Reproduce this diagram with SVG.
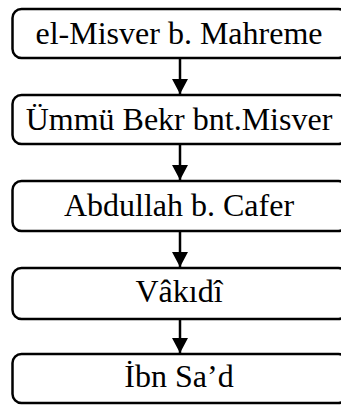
<svg xmlns="http://www.w3.org/2000/svg" width="341" height="405" viewBox="0 0 341 405">
  <style>
    .box { fill: #ffffff; stroke: #000000; stroke-width: 2.5; }
    .label { font-family: "Liberation Serif", "Times New Roman", serif; font-size: 32px; fill: #000000; text-anchor: middle; }
    .link { stroke: #000000; stroke-width: 2.5; fill: none; }
  </style>
  <defs>
    <marker id="arrow" markerUnits="userSpaceOnUse" markerWidth="16" markerHeight="16" refX="15" refY="8" orient="auto">
      <path d="M0,0 L15,8 L0,16 Z" fill="#000000"/>
    </marker>
  </defs>
  <rect width="341" height="405" fill="#ffffff"/>

  <g id="connectors">
    <line class="link" x1="180" y1="58" x2="180" y2="94" marker-end="url(#arrow)"/>
    <line class="link" x1="180" y1="144" x2="180" y2="180" marker-end="url(#arrow)"/>
    <line class="link" x1="180" y1="231" x2="180" y2="267" marker-end="url(#arrow)"/>
    <line class="link" x1="180" y1="319" x2="180" y2="353" marker-end="url(#arrow)"/>
  </g>

  <g id="node-misver">
    <rect class="box" x="12.5" y="9" width="335" height="49" rx="9"/>
    <text class="label" x="179" y="44.3">el-Misver b. Mahreme</text>
  </g>
  <g id="node-ummu-bekr">
    <rect class="box" x="12.5" y="95" width="335" height="49" rx="9"/>
    <text class="label" x="179" y="129.5">Ümmü Bekr bnt.Misver</text>
  </g>
  <g id="node-abdullah">
    <rect class="box" x="12.5" y="181" width="335" height="50" rx="9"/>
    <text class="label" x="179" y="215.5">Abdullah b. Cafer</text>
  </g>
  <g id="node-vakidi">
    <rect class="box" x="12.5" y="268" width="335" height="51" rx="9"/>
    <text class="label" x="179" y="302">Vâkıdî</text>
  </g>
  <g id="node-ibn-sad">
    <rect class="box" x="12.5" y="354" width="335" height="49" rx="9"/>
    <text class="label" x="179" y="387">İbn Sa’d</text>
  </g>
</svg>
